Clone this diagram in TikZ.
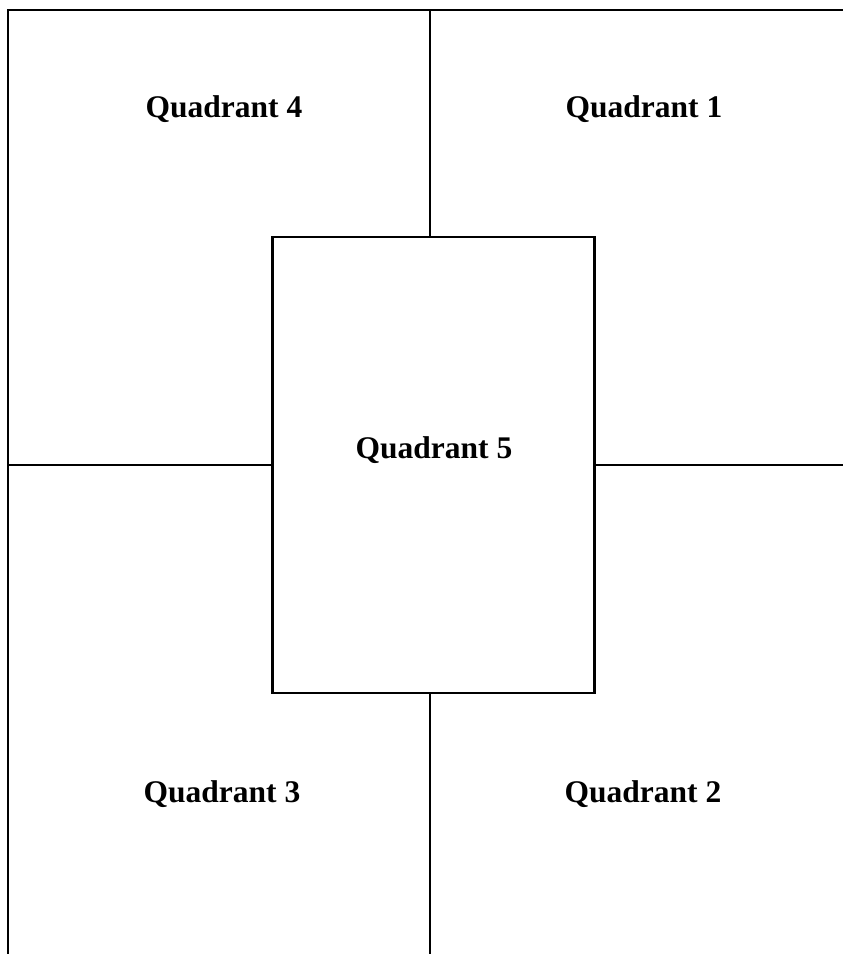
\documentclass[tikz,border=0pt]{standalone}
\usepackage{fontspec}
\setmainfont{Liberation Serif}
\begin{document}
\begin{tikzpicture}[x=1pt,y=-1pt,
  lbl/.style={font=\fontsize{31.5}{38}\selectfont\bfseries, inner sep=0pt},
  ln/.style={line width=2.8pt, line cap=rect}]
\useasboundingbox (0,0) rectangle (843,954);
% outer frame (top and left)
\coordinate (tl) at (8,10);
\coordinate (tr) at (843,10);
\coordinate (bl) at (8,954);
\draw[ln] (tr) -- (tl) -- (bl);
% central box
\node[draw, line width=2.8pt, minimum width=322pt, minimum height=456pt, inner sep=0pt] (q5box) at (433.5,465) {};
% dividers
\coordinate (vt) at (430,10);
\coordinate (vb) at (430,954);
\coordinate (hl) at (8,465);
\coordinate (hr) at (843,465);
\draw[ln] (vt) -- (vt |- q5box.north);
\draw[ln] (vb |- q5box.south) -- (vb);
\draw[ln] (hl) -- (q5box.west);
\draw[ln] (q5box.east) -- (hr);
% labels
\node[lbl] (q4) at (224,109) {Quadrant 4};
\node[lbl] (q1) at (644,109) {Quadrant 1};
\node[lbl] (q5) at (434,450) {Quadrant 5};
\node[lbl] (q3) at (222,794) {Quadrant 3};
\node[lbl] (q2) at (643,794) {Quadrant 2};
\end{tikzpicture}
\end{document}
